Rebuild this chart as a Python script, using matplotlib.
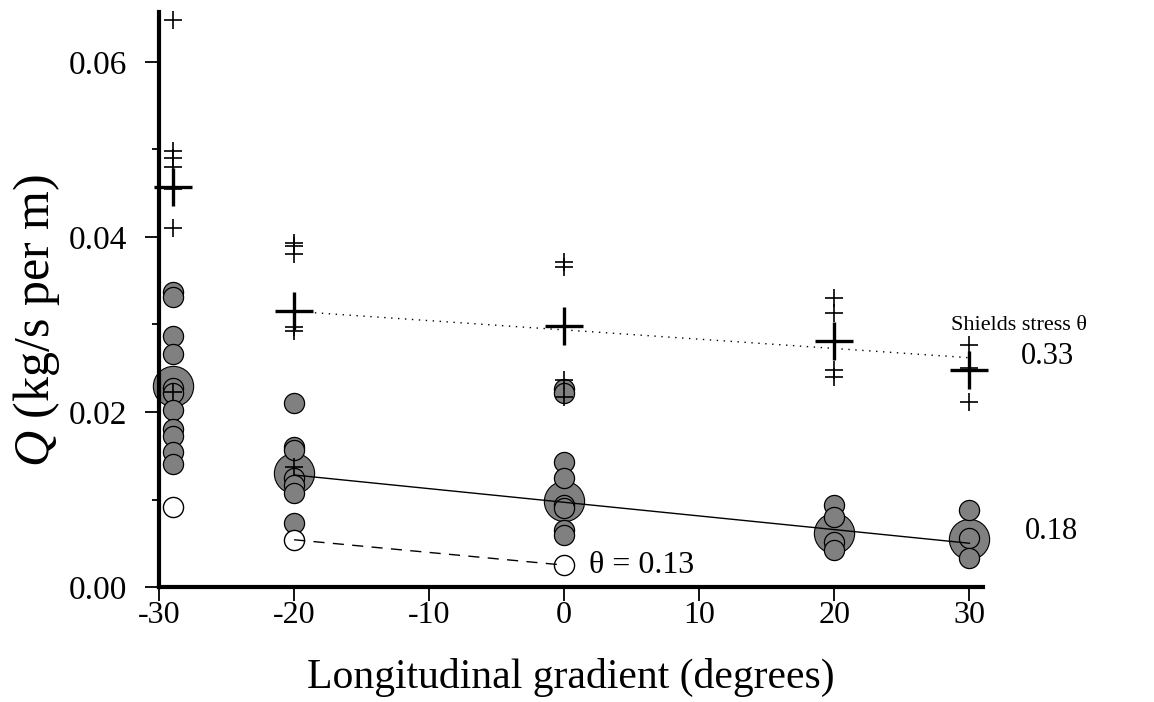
import matplotlib
matplotlib.use("Agg")
import matplotlib.pyplot as plt
from matplotlib.ticker import MultipleLocator, FormatStrFormatter

plt.rcParams["font.family"] = ["Liberation Serif", "DejaVu Serif"]
plt.rcParams["mathtext.fontset"] = "custom"
plt.rcParams["mathtext.it"] = "Liberation Serif:italic"
plt.rcParams["mathtext.rm"] = "Liberation Serif"
plt.rcParams["axes.unicode_minus"] = False

# gradient of each test group (degrees)
angles = [-29, -20, 0, 20, 30]

# Shields stress 0.33: individual runs and group mean
cross_q = [
    [0.0648, 0.0498, 0.0490, 0.0480, 0.0455, 0.0410, 0.0223],
    [0.0393, 0.0390, 0.0381, 0.0297, 0.0293, 0.0137],
    [0.0371, 0.0366, 0.0237, 0.0217],
    [0.0330, 0.0313, 0.0280, 0.0248, 0.0240],
    [0.0277, 0.0250, 0.0211],
]
cross_mean = [0.0457, 0.0315, 0.0298, 0.0281, 0.0248]

# Shields stress 0.18: individual runs and group mean
circle_q = [
    [0.0337, 0.0331, 0.0287, 0.0266, 0.0227, 0.0222, 0.0202, 0.0180, 0.0173, 0.0154, 0.0141],
    [0.0210, 0.0160, 0.0156, 0.0125, 0.0117, 0.0107, 0.0073],
    [0.0226, 0.0222, 0.0143, 0.0125, 0.0094, 0.0090, 0.0065, 0.0059],
    [0.0094, 0.0080, 0.0051, 0.0042],
    [0.0088, 0.0056, 0.0033],
]
circle_mean = [0.0230, 0.0130, 0.0098, 0.0062, 0.0055]

# Shields stress 0.13
open_x = [-29, -20, 0]
open_q = [0.0091, 0.0054, 0.0025]

# fitted trend lines
fit33_x = [-20, 30]
fit33_q = [0.0315, 0.0262]
fit18_x = [-20, 30]
fit18_q = [0.0128, 0.0050]
fit13_x = [-20, 0]
fit13_q = [0.0054, 0.0025]

fig = plt.figure(figsize=(11.54, 7.02), dpi=100)
ax = fig.add_axes([0.1378, 0.1638, 0.714, 0.819])

grey = "#808080"
for x, m in zip(angles, circle_mean):
    ax.plot(x, m, "o", ms=29, mfc=grey, mec="black", mew=0.8, zorder=2, clip_on=False)
for x, qs in zip(angles, circle_q):
    ax.plot([x] * len(qs), qs, "o", ls="none", ms=14.5, mfc=grey, mec="black",
            mew=0.9, zorder=3, clip_on=False)
ax.plot(open_x, open_q, "o", ls="none", ms=14.5, mfc="white", mec="black",
        mew=1.0, zorder=3)

for x, qs in zip(angles, cross_q):
    ax.plot([x] * len(qs), qs, "+", ls="none", ms=13, mec="black", mew=1.2,
            zorder=4, clip_on=False)
for x, m in zip(angles, cross_mean):
    ax.plot(x, m, "+", ms=27, mec="black", mew=2.4, zorder=4, clip_on=False)

ax.plot(fit33_x, fit33_q, color="black", lw=1.0, ls=(0, (1, 4)), zorder=5)
ax.plot(fit18_x, fit18_q, color="black", lw=1.0, zorder=5)
ax.plot(fit13_x, fit13_q, color="black", lw=1.0, ls=(0, (8, 6)), zorder=5)

ax.text(28.6, 0.0299, "Shields stress θ", fontsize=16, va="center", ha="left")
ax.text(33.8, 0.0263, "0.33", fontsize=22, va="center", ha="left")
ax.text(34.1, 0.0063, "0.18", fontsize=22, va="center", ha="left")
ax.text(1.8, 0.0025, "θ = 0.13", fontsize=23, va="center", ha="left")

ax.set_xlim(-30, 31)
ax.set_ylim(0, 0.0657)
ax.xaxis.set_major_locator(MultipleLocator(10))
ax.yaxis.set_major_locator(MultipleLocator(0.02))
ax.yaxis.set_minor_locator(MultipleLocator(0.01))
ax.yaxis.set_major_formatter(FormatStrFormatter("%.2f"))

for side in ("top", "right"):
    ax.spines[side].set_visible(False)
for side in ("left", "bottom"):
    ax.spines[side].set_linewidth(3)
ax.tick_params(which="major", length=10, width=1.3, labelsize=23)
ax.tick_params(axis="y", which="major", labelsize=24, pad=13)
ax.tick_params(axis="x", which="major", pad=0)
ax.tick_params(which="minor", length=5, width=1.3)

ax.set_xlabel("Longitudinal gradient (degrees)", fontsize=30, labelpad=20)
ax.set_ylabel("$\\mathit{Q}$ (kg/s per m)", fontsize=36)
ax.yaxis.set_label_coords(-0.118, 0.464)

fig.savefig("out.png", dpi=100)
